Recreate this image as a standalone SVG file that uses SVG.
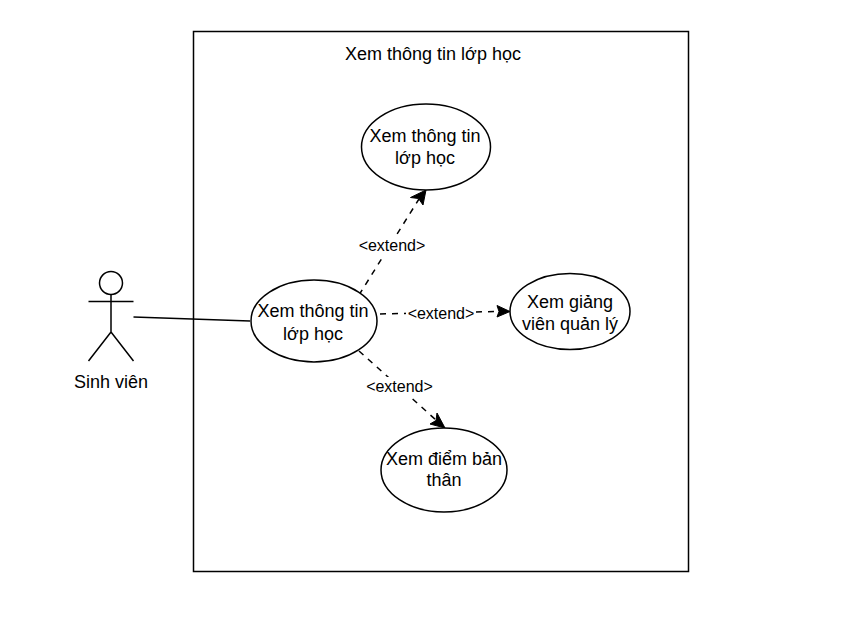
<svg xmlns="http://www.w3.org/2000/svg" width="863" height="619" viewBox="0 0 863 619">
<defs>
<style>
text{font-family:"Liberation Sans",Arial,Helvetica,sans-serif;fill:#000;text-anchor:middle}
.t{font-size:18px}
.l{font-size:16px}
.s{fill:#fff;stroke:#000;stroke-width:1.5}
.n{fill:none;stroke:#000;stroke-width:1.5}
.d{fill:none;stroke:#000;stroke-width:1.5;stroke-dasharray:6 6}
.h{fill:#000;stroke:#000;stroke-width:1}
</style>
</defs>
<rect width="863" height="619" fill="#fff"/>
<g id="boundary">
<rect class="s" x="193.500" y="31.500" width="495" height="540"/>
<text class="t" x="433" y="60">Xem thông tin lớp học</text>
</g>
<g id="connectors">
<path class="n" d="M133.500 317L250 321"/>
<path class="d" d="M359 295L419 199"/>
<path class="h" d="M426 190L423 205L418.500 198.500L410.500 197.500Z"/>
<path class="d" d="M380 314L499 311.500"/>
<path class="h" d="M510 311.500L497 317L499 311.500L497 305.500Z"/>
<path class="d" d="M359 351L436 420"/>
<path class="h" d="M445 428L430 424L436 420.500L437 413Z"/>
<rect x="356" y="236" width="72" height="20" fill="#fff"/>
<text class="l" x="392" y="251">&lt;extend&gt;</text>
<rect x="406" y="304" width="70" height="20" fill="#fff"/>
<text class="l" x="441" y="319">&lt;extend&gt;</text>
<rect x="364" y="377" width="71" height="20" fill="#fff"/>
<text class="l" x="399.500" y="392">&lt;extend&gt;</text>
</g>
<g id="actor">
<circle class="s" cx="111" cy="283" r="11.500"/>
<path class="n" d="M111 294.500V332M88.500 301.500H133.500M88.500 361L111 332L133.500 361"/>
<text class="t" x="111" y="388">Sinh viên</text>
</g>
<g id="uc-main">
<ellipse class="s" cx="314" cy="321" rx="63" ry="41"/>
<text class="t" x="313" y="317">Xem thông tin</text>
<text class="t" x="313" y="340">lớp học</text>
</g>
<g id="uc-top">
<ellipse class="s" cx="426" cy="147" rx="64.500" ry="43"/>
<text class="t" x="425" y="142">Xem thông tin</text>
<text class="t" x="425" y="164">lớp học</text>
</g>
<g id="uc-right">
<ellipse class="s" cx="570" cy="311.500" rx="60" ry="38"/>
<text class="t" x="570" y="308">Xem giảng</text>
<text class="t" x="570" y="330">viên quản lý</text>
</g>
<g id="uc-bottom">
<ellipse class="s" cx="444" cy="470" rx="63" ry="42"/>
<text class="t" x="444" y="465">Xem điểm bản</text>
<text class="t" x="444" y="486">thân</text>
</g>
</svg>
